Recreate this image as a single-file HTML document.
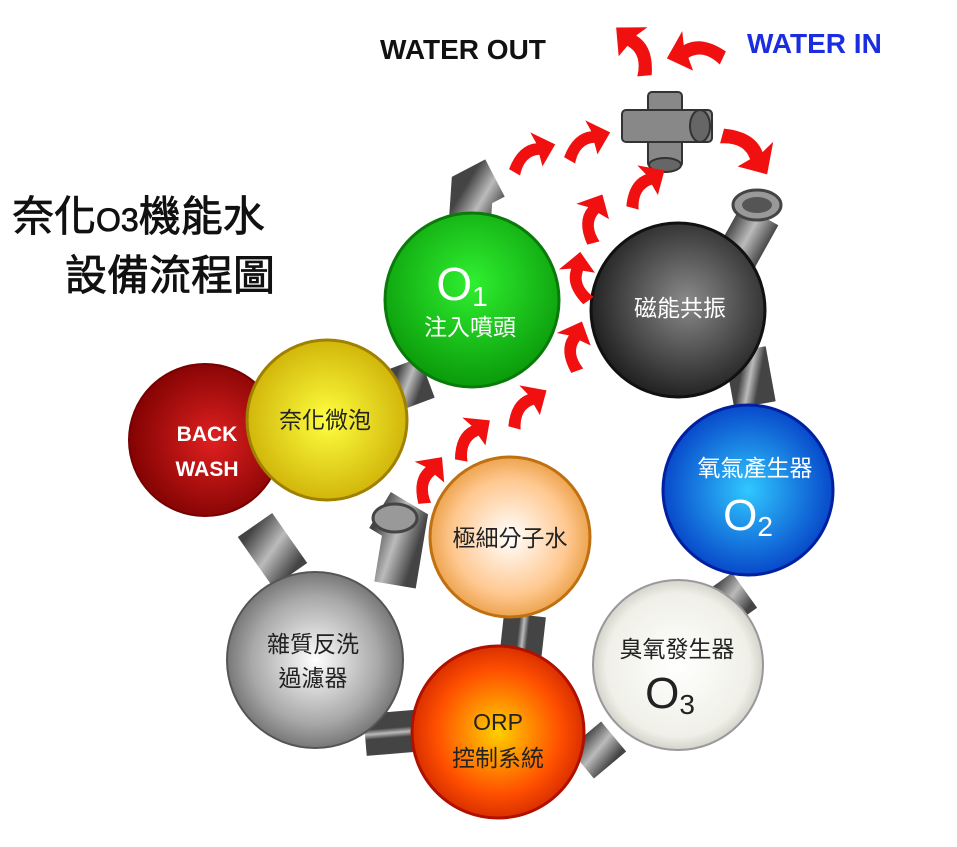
<!DOCTYPE html>
<html><head><meta charset="utf-8"><style>
body{margin:0;background:#fff;}
svg{display:block}
text{font-family:"Liberation Sans","Noto Sans CJK TC",sans-serif;}
</style></head><body>
<svg width="957" height="847" viewBox="0 0 957 847" xmlns="http://www.w3.org/2000/svg">
<defs>
<radialGradient id="gr" cx="0.55" cy="0.5" r="0.6"><stop offset="0" stop-color="#e02020"/><stop offset="1" stop-color="#7a0000"/></radialGradient>
<radialGradient id="gy" cx="0.5" cy="0.5" r="0.6"><stop offset="0" stop-color="#ffff40"/><stop offset="1" stop-color="#c8a800"/></radialGradient>
<radialGradient id="gg" cx="0.5" cy="0.4" r="0.6"><stop offset="0" stop-color="#30f030"/><stop offset="1" stop-color="#0a9a0a"/></radialGradient>
<radialGradient id="gk" cx="0.55" cy="0.45" r="0.6"><stop offset="0" stop-color="#8a8a8a"/><stop offset="1" stop-color="#1a1a1a"/></radialGradient>
<radialGradient id="gb" cx="0.5" cy="0.5" r="0.6"><stop offset="0" stop-color="#30c8ff"/><stop offset="1" stop-color="#0030c0"/></radialGradient>
<radialGradient id="gw" cx="0.5" cy="0.5" r="0.6"><stop offset="0" stop-color="#ffffff"/><stop offset="0.7" stop-color="#f0f0e8"/><stop offset="1" stop-color="#b0b0a8"/></radialGradient>
<radialGradient id="go" cx="0.5" cy="0.5" r="0.6"><stop offset="0" stop-color="#ffd000"/><stop offset="0.6" stop-color="#ff5000"/><stop offset="1" stop-color="#c01800"/></radialGradient>
<radialGradient id="gl" cx="0.5" cy="0.5" r="0.6"><stop offset="0" stop-color="#ffffff"/><stop offset="0.6" stop-color="#ffc890"/><stop offset="1" stop-color="#e08a20"/></radialGradient>
<radialGradient id="gs" cx="0.5" cy="0.5" r="0.6"><stop offset="0" stop-color="#ffffff"/><stop offset="0.6" stop-color="#a8a8a8"/><stop offset="1" stop-color="#555"/></radialGradient>
<linearGradient id="pipe" x1="0" y1="0" x2="1" y2="1"><stop offset="0" stop-color="#444"/><stop offset="0.5" stop-color="#bbb"/><stop offset="1" stop-color="#444"/></linearGradient>
<path id="arr" d="M-14,6 Q-4,-8 8,-6 L6,-14 L20,-2 L8,10 L8,2 Q-2,0 -8,12 Z" fill="#f01010"/>
</defs>

<!-- pipes -->
<g stroke="url(#pipe)" stroke-width="42" fill="none" stroke-linecap="butt">
<path d="M255,525 L290,575"/>
<path d="M395,585 L405,525 L380,510"/>
<path d="M365,735 L425,730"/>
<path d="M525,615 L520,660"/>
<path d="M715,585 L740,620"/>
<path d="M585,735 L610,765"/>
<path d="M745,350 L755,405"/>
<path d="M400,365 L415,405"/>
<path d="M470,220 L472,190 L495,178"/>
<path d="M735,260 L760,215"/>
</g>
<ellipse cx="757" cy="205" rx="24" ry="15" fill="#999" stroke="#444" stroke-width="3"/>
<ellipse cx="757" cy="205" rx="15" ry="8" fill="#555"/>
<ellipse cx="395" cy="518" rx="22" ry="14" fill="#999" stroke="#444" stroke-width="3"/>
<!-- cross fitting -->
<g fill="#888" stroke="#333" stroke-width="2">
<rect x="648" y="92" width="34" height="75" rx="4"/>
<rect x="622" y="110" width="90" height="32" rx="4"/>
<ellipse cx="700" cy="126" rx="10" ry="16" fill="#666"/>
<ellipse cx="665" cy="165" rx="16" ry="7" fill="#666"/>
</g>

<!-- circles -->
<circle cx="205" cy="440" r="76" fill="url(#gr)" stroke="#700" stroke-width="2"/>
<circle cx="327" cy="420" r="80" fill="url(#gy)" stroke="#a08000" stroke-width="3"/>
<circle cx="472" cy="300" r="87" fill="url(#gg)" stroke="#0a7a0a" stroke-width="3"/>
<circle cx="678" cy="310" r="87" fill="url(#gk)" stroke="#111" stroke-width="3"/>
<circle cx="748" cy="490" r="85" fill="url(#gb)" stroke="#0020a0" stroke-width="3"/>
<circle cx="678" cy="665" r="85" fill="url(#gw)" stroke="#999" stroke-width="2"/>
<circle cx="498" cy="732" r="86" fill="url(#go)" stroke="#b01000" stroke-width="3"/>
<circle cx="510" cy="537" r="80" fill="url(#gl)" stroke="#c07010" stroke-width="3"/>
<circle cx="315" cy="660" r="88" fill="url(#gs)" stroke="#555" stroke-width="2"/>

<!-- circle text -->
<g fill="#fff" text-anchor="middle">
<text x="207" y="441" font-size="21" font-weight="bold">BACK</text>
<text x="207" y="476" font-size="21" font-weight="bold">WASH</text>
<text x="462" y="300" font-size="46">O<tspan font-size="28" dy="6">1</tspan></text>
<text x="470" y="335" font-size="23">注入噴頭</text>
<text x="680" y="316" font-size="23">磁能共振</text>
<text x="755" y="476" font-size="23">氧氣產生器</text>
<text x="748" y="530" font-size="44">O<tspan font-size="28" dy="6">2</tspan></text>
</g>
<g fill="#222" text-anchor="middle">
<text x="325" y="428" font-size="23">奈化微泡</text>
<text x="510" y="546" font-size="23">極細分子水</text>
<text x="313" y="652" font-size="23">雜質反洗</text>
<text x="313" y="686" font-size="23">過濾器</text>
<text x="677" y="657" font-size="23">臭氧發生器</text>
<text x="670" y="708" font-size="44">O<tspan font-size="28" dy="6">3</tspan></text>
<text x="498" y="730" font-size="23">ORP</text>
<text x="498" y="766" font-size="23">控制系統</text>
</g>

<!-- arrows -->
<g transform="translate(0,0)">
<use href="#arr" transform="translate(425,482) rotate(-50) scale(1.5)"/>
<use href="#arr" transform="translate(467,440) rotate(-35) scale(1.5)"/>
<use href="#arr" transform="translate(522,408) rotate(-30) scale(1.5)"/>
<use href="#arr" transform="translate(572,350) rotate(-65) scale(1.5)"/>
<use href="#arr" transform="translate(578,282) rotate(-80) scale(1.5)"/>
<use href="#arr" transform="translate(590,222) rotate(-60) scale(1.5)"/>
<use href="#arr" transform="translate(640,188) rotate(-30) scale(1.5)"/>
<use href="#arr" transform="translate(527,155) rotate(-15) scale(1.5)"/>
<use href="#arr" transform="translate(582,143) rotate(-15) scale(1.5)"/>
<use href="#arr" transform="translate(746,145) rotate(60) scale(1.8)"/>
<use href="#arr" transform="translate(640,52) scale(-1.7,1.7) rotate(-40)"/>
<use href="#arr" transform="translate(700,50) rotate(160) scale(1.7,-1.7)"/>
</g>

<!-- labels -->
<text x="380" y="59" font-size="28" font-weight="bold" fill="#111">WATER OUT</text>
<text x="747" y="53" font-size="28" font-weight="bold" fill="#1a2ee0">WATER IN</text>
<text x="12" y="231" font-size="42" fill="#111" stroke="#111" stroke-width="0.8" font-family="'Noto Sans CJK TC',sans-serif">奈化<tspan font-size="32">O3</tspan>機能水</text>
<text x="65" y="290" font-size="42" fill="#111" stroke="#111" stroke-width="0.8" font-family="'Noto Sans CJK TC',sans-serif">設備流程圖</text>
</svg>
</body></html>
